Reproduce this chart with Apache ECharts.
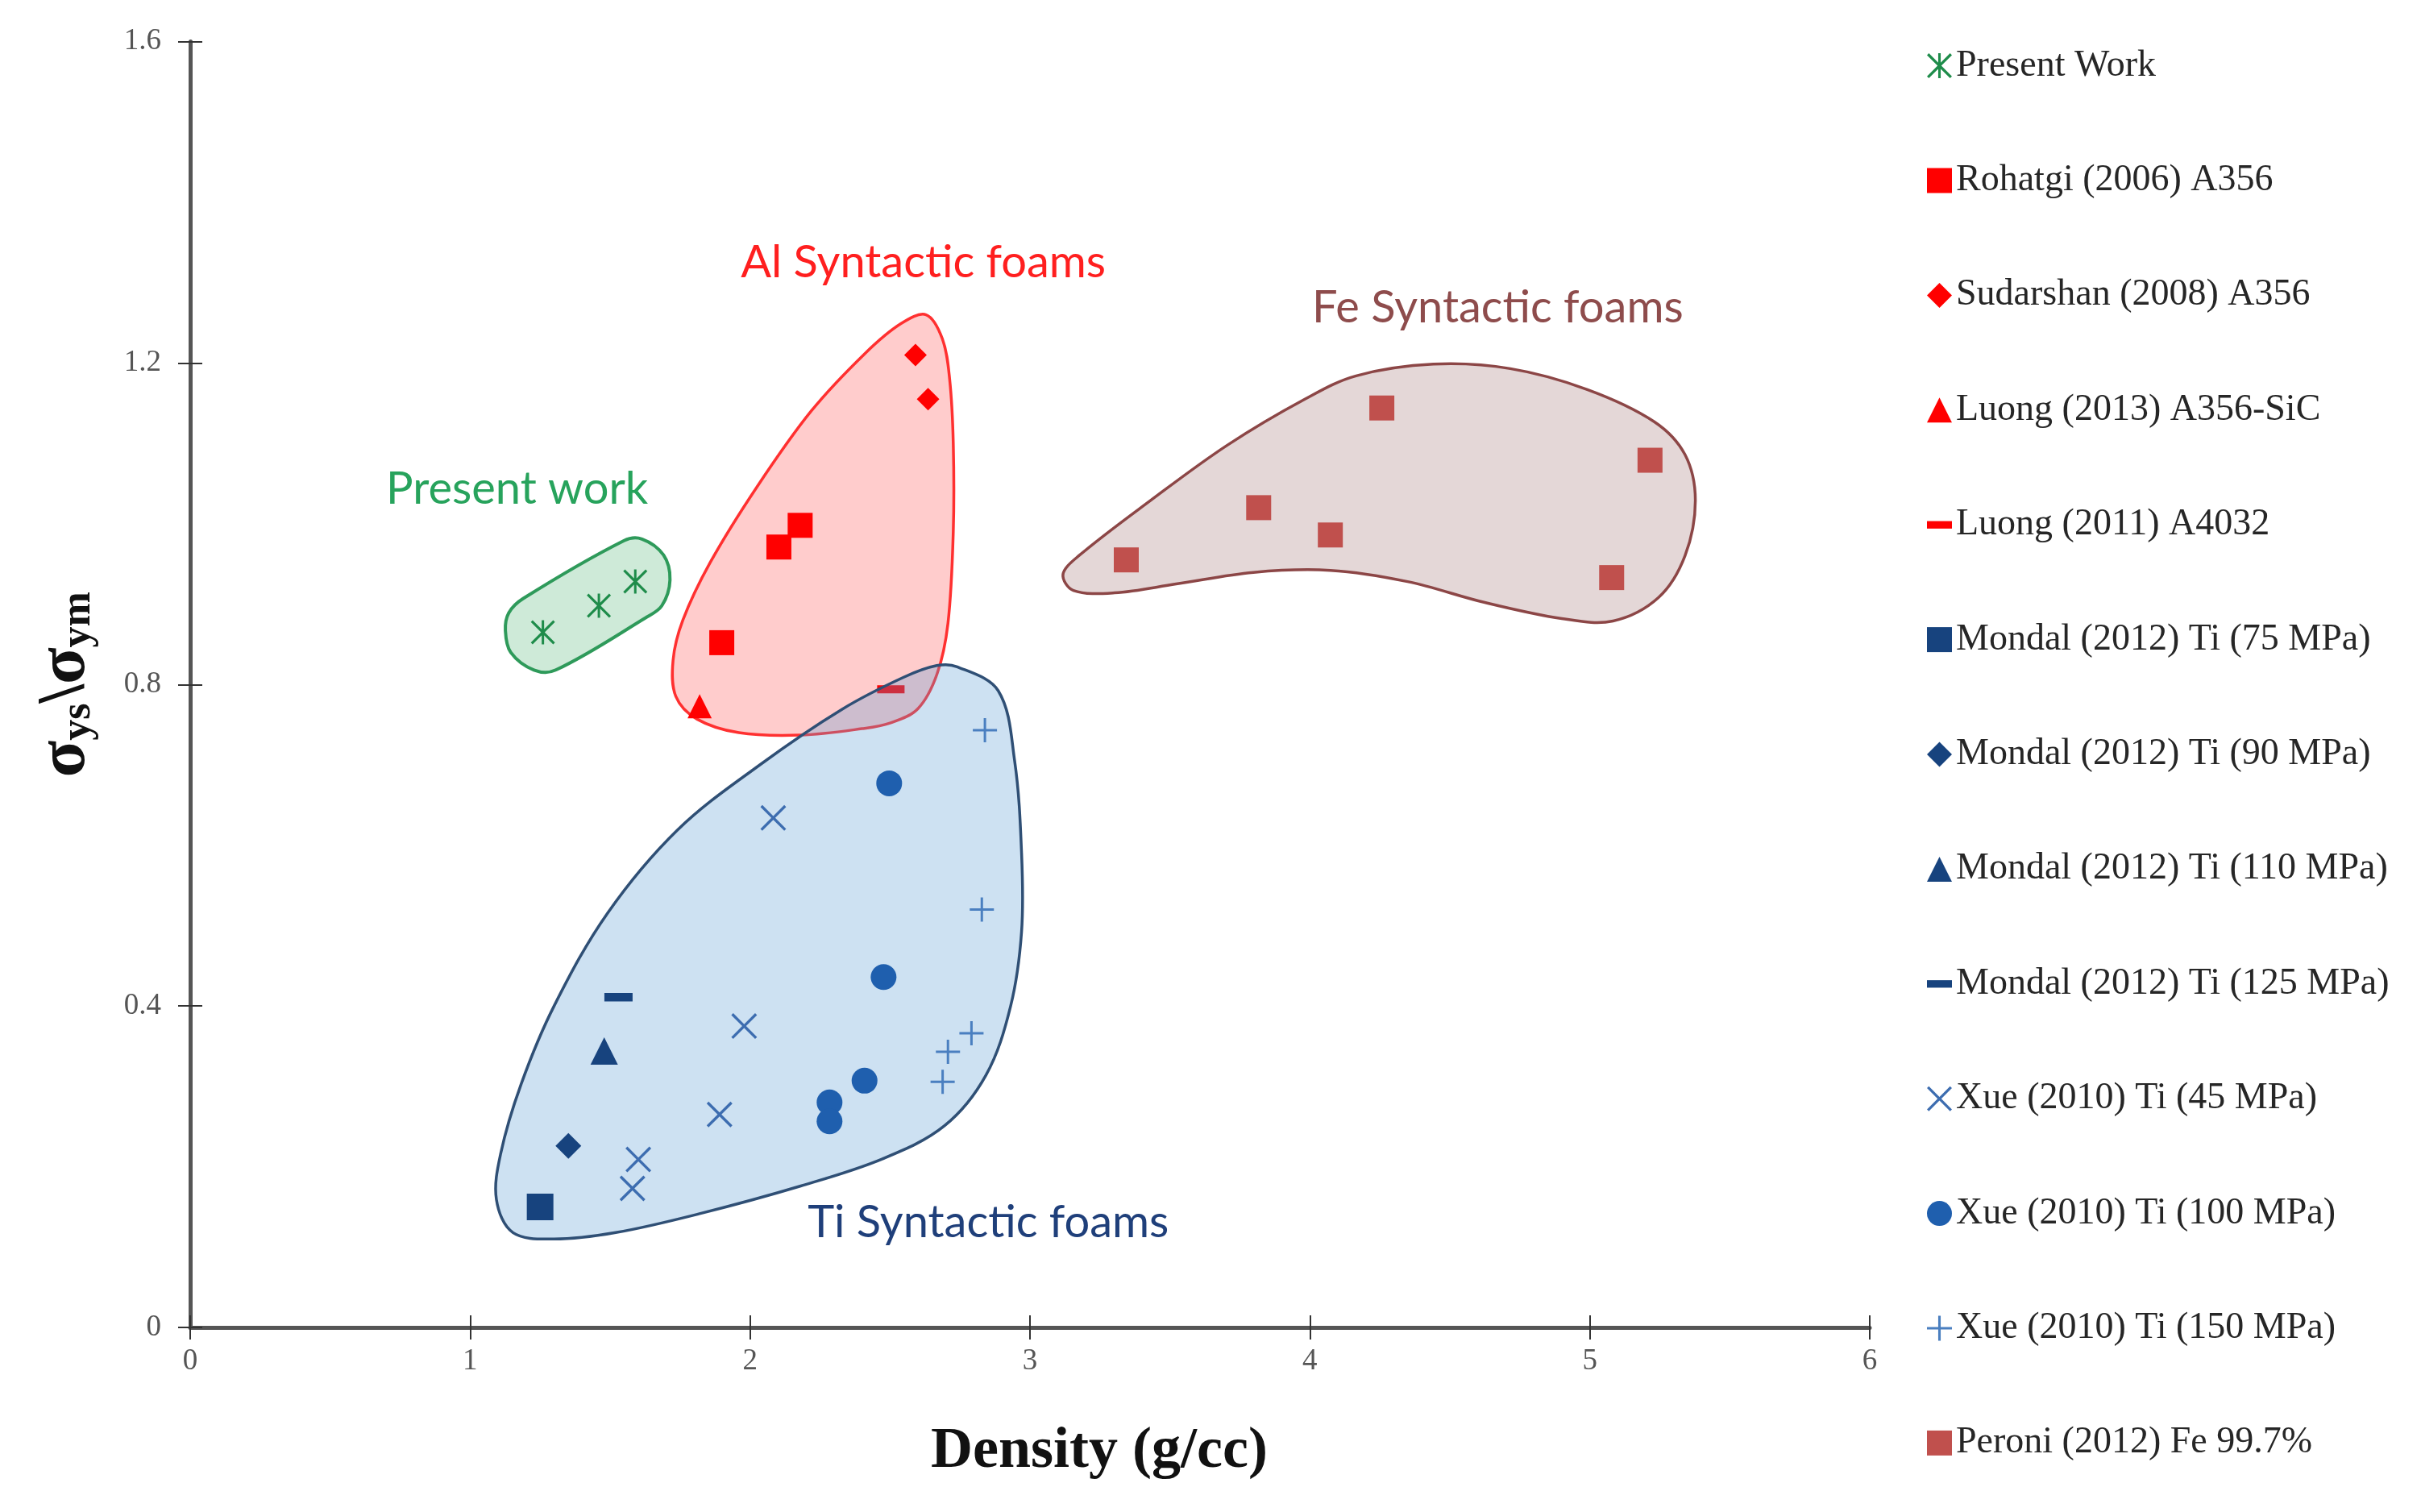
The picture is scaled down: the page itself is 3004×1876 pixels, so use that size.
<!DOCTYPE html>
<html><head><meta charset="utf-8">
<script src="https://cdn.jsdelivr.net/npm/echarts@6/dist/echarts.min.js"></script>
<style>html,body{margin:0;padding:0;background:#fff}#c{width:3004px;height:1876px}</style>
</head><body><div id="c"></div>
<script>
// ---- Data (density g/cc, sigma_ys/sigma_ym) ----
const xTicks = [0, 1, 2, 3, 4, 5, 6];
const yTicks = [0, 0.4, 0.8, 1.2, 1.6];
const seriesNames = ['Present Work','Rohatgi (2006) A356','Sudarshan (2008) A356','Luong (2013) A356-SiC','Luong (2011) A4032','Mondal (2012) Ti (75 MPa)','Mondal (2012) Ti (90 MPa)','Mondal (2012) Ti (110 MPa)','Mondal (2012) Ti (125 MPa)','Xue (2010) Ti (45 MPa)','Xue (2010) Ti (100 MPa)','Xue (2010) Ti (150 MPa)','Peroni (2012) Fe 99.7%'];
const presentWork = [[1.26,0.865],[1.46,0.898],[1.59,0.928]];
const rohatgi = [[1.899,0.852],[2.103,0.971],[2.179,0.998]];
const sudarshan = [[2.591,1.21],[2.636,1.155]];
const luong2013 = [[1.82,0.773]];
const luong2011 = [[2.503,0.794]];
const mondal75 = [[1.25,0.150]];
const mondal90 = [[1.351,0.226]];
const mondal110 = [[1.479,0.344]];
const mondal125 = [[1.53,0.411]];
const xue45 = [[2.083,0.634],[1.979,0.375],[1.891,0.265],[1.601,0.209],[1.58,0.173]];
const xue100 = [[2.497,0.677],[2.477,0.436],[2.409,0.307],[2.284,0.280],[2.284,0.2565]];
const xue150 = [[2.839,0.743],[2.828,0.520],[2.791,0.366],[2.707,0.343],[2.688,0.3055]];
const peroni = [[3.344,0.955],[3.817,1.020],[4.073,0.986],[4.257,1.144],[5.078,0.933],[5.215,1.079]];

// region outlines (data coordinates)
const greenRegion = [[1.138,0.889],[1.19,0.907],[1.55,0.979],[1.614,0.981],[1.691,0.961],[1.714,0.93],[1.685,0.898],[1.627,0.883],[1.306,0.818],[1.228,0.818],[1.145,0.84],[1.126,0.867]];
const redRegion = [[2.629,1.26],[2.687,1.23],[2.713,1.18],[2.726,1.10],[2.726,0.99],[2.707,0.876],[2.668,0.813],[2.60,0.77],[2.50,0.752],[2.40,0.745],[2.18,0.737],[1.96,0.74],[1.81,0.757],[1.735,0.785],[1.725,0.83],[1.76,0.88],[1.858,0.952],[2.025,1.046],[2.218,1.14],[2.411,1.212],[2.539,1.249]];
const blueRegion = [[2.74,0.822],[2.887,0.792],[2.945,0.7055],[2.97,0.59],[2.97,0.4925],[2.931,0.40],[2.843,0.314],[2.695,0.251],[2.475,0.21],[2.181,0.176],[1.814,0.141],[1.52,0.118],[1.30,0.11],[1.153,0.118],[1.094,0.159],[1.109,0.216],[1.182,0.3025],[1.30,0.40],[1.491,0.5155],[1.741,0.619],[2.035,0.70],[2.328,0.769],[2.549,0.809],[2.667,0.8235]];
const feRegion = [[3.118,0.937],[3.174,0.96],[3.431,1.029],[3.706,1.098],[3.982,1.155],[4.165,1.184],[4.441,1.1985],[4.716,1.193],[4.991,1.167],[5.23,1.127],[5.34,1.086],[5.377,1.029],[5.34,0.96],[5.245,0.908],[5.083,0.879],[4.90,0.882],[4.625,0.902],[4.349,0.928],[4.073,0.942],[3.798,0.9395],[3.522,0.925],[3.302,0.914],[3.155,0.917]];

const annotationText = ['Present work','Al Syntactic foams','Fe Syntactic foams','Ti Syntactic foams'];
const annotationX = [1.168, 2.619, 4.671, 2.851];
const annotationY = [1.043, 1.325, 1.269, 0.130];
const annotationColor = ['#27a35c','#ff1f1f','#8e4c4c','#1f3f7a'];

// ---- symbols ----
const STAR = 'path://M1.5,0L10,8.5L18.5,0L20,1.5L11.5,10L20,18.5L18.5,20L10,11.5L1.5,20L0,18.5L8.5,10L0,1.5ZM9,0H11V20H9Z';
const XMARK = 'path://M1.5,0L10,8.5L18.5,0L20,1.5L11.5,10L20,18.5L18.5,20L10,11.5L1.5,20L0,18.5L8.5,10L0,1.5Z';
const PLUS = 'path://M0,9H20V11H0ZM9,0H11V20H9Z';
const DASH = 'path://M0,0H10V3H0Z';

const chart = echarts.init(document.getElementById('c'), null, {renderer:'canvas'});

function region(outline, fill, stroke, lw, z) {
  return {
    type:'custom', coordinateSystem:'cartesian2d', silent:true, z:z,
    data:[outline[0]],
    renderItem: function(params, api) {
      const pts = outline.map(function(p){ return api.coord(p); });
      return {type:'polygon', shape:{points:pts, smooth:0.35},
        style:{fill:fill, stroke:stroke, lineWidth:lw}};
    }
  };
}

function scatter(name, data, symbol, size, color, z) {
  return {type:'scatter', name:name, data:data, symbol:symbol, symbolSize:size,
    symbolKeepAspect:true, itemStyle:{color:color, opacity:1}, z:z, silent:true};
}

const legendIcons = [STAR,'rect','diamond','triangle',DASH,'rect','diamond','triangle',DASH,XMARK,'circle',PLUS,'rect'];

const option = {
  backgroundColor:'#ffffff',
  animation:false,
  grid:{left:236, right:684, top:51.5, bottom:229, containLabel:false},
  xAxis:[{
    type:'value', min:0, max:6, interval:1,
    axisLine:{show:true, lineStyle:{color:'#555', width:5}},
    axisTick:{show:true, length:15, lineStyle:{color:'#333', width:2}},
    axisLabel:{fontFamily:'Liberation Serif', fontSize:37, color:'#555', margin:24},
    splitLine:{show:false},
    name:'Density (g/cc)', nameLocation:'middle', nameGap:118,
    nameTextStyle:{fontFamily:'Liberation Serif', fontWeight:'bold', fontSize:72, color:'#111', padding:[0,0,0,172]}
  },{
    type:'value', min:0, max:6, interval:1, position:'bottom',
    axisLine:{show:false}, axisLabel:{show:false}, splitLine:{show:false},
    axisTick:{show:true, inside:true, length:15, lineStyle:{color:'#333', width:2}}
  }],
  yAxis:[{
    type:'value', min:0, max:1.6, interval:0.4,
    axisLine:{show:true, lineStyle:{color:'#555', width:5}},
    axisTick:{show:true, length:15, lineStyle:{color:'#333', width:2}},
    axisLabel:{fontFamily:'Liberation Serif', fontSize:37, color:'#555', margin:36},
    splitLine:{show:false},
    name:'σ{s|ys}\\σ{s|ym}', nameLocation:'middle', nameGap:112, nameRotate:90,
    nameTextStyle:{fontFamily:'Liberation Serif', fontWeight:'bold', fontSize:84, color:'#111',
      rich:{s:{fontFamily:'Liberation Serif', fontWeight:'bold', fontSize:52, color:'#111', verticalAlign:'bottom', lineHeight:40}}}
  },{
    type:'value', min:0, max:1.6, interval:0.4, position:'left',
    axisLine:{show:false}, axisLabel:{show:false}, splitLine:{show:false},
    axisTick:{show:true, inside:true, length:15, lineStyle:{color:'#333', width:2}}
  }],
  legend:{
    orient:'vertical', left:2386, top:53.6, itemGap:96.4,
    itemWidth:31, itemHeight:31,
    textStyle:{fontFamily:'Liberation Serif', fontSize:46, color:'#262626', lineHeight:46},
    data: seriesNames.map(function(n,i){ return {name:n, icon:legendIcons[i]}; }),
    selectedMode:false
  },
  series:[
    region(greenRegion, 'rgba(60,170,100,0.25)', '#2e9a5a', 4, 1),
    region(feRegion, '#e4d7d7', '#8c4646', 3.5, 1),
    region(redRegion, 'rgba(255,0,0,0.2)', '#ff3030', 3.5, 1),
    scatter(seriesNames[0], presentWork, STAR, 30, '#1e8c4a', 5),
    scatter(seriesNames[1], rohatgi, 'rect', 31, '#ff0000', 2),
    scatter(seriesNames[2], sudarshan, 'diamond', 28, '#ff0000', 2),
    scatter(seriesNames[3], luong2013, 'triangle', 30, '#ff0000', 2),
    scatter(seriesNames[4], luong2011, DASH, 34, '#ff0000', 2),
    region(blueRegion, 'rgba(91,155,213,0.3)', '#2f4f75', 3.5, 3),
    scatter(seriesNames[5], mondal75, 'rect', 33, '#17437e', 5),
    scatter(seriesNames[6], mondal90, 'diamond', 32, '#17437e', 5),
    scatter(seriesNames[7], mondal110, 'triangle', 34, '#17437e', 5),
    scatter(seriesNames[8], mondal125, DASH, 35, '#17437e', 5),
    scatter(seriesNames[9], xue45, XMARK, 32, '#3d6db0', 5),
    scatter(seriesNames[10], xue100, 'circle', 32, '#1f5fae', 5),
    scatter(seriesNames[11], xue150, PLUS, 30, '#4a7fc0', 5),
    scatter(seriesNames[12], peroni, 'rect', 31, '#c0504d', 5),
    {
      type:'custom', coordinateSystem:'cartesian2d', silent:true, z:6,
      data: annotationX.map(function(x,i){ return [x, annotationY[i]]; }),
      renderItem: function(params, api) {
        const i = params.dataIndex;
        const p = api.coord([annotationX[i], annotationY[i]]);
        return {type:'text', x:p[0], y:p[1],
          style:{text:annotationText[i], fill:annotationColor[i], font:'56px Lato',
            align:'center', verticalAlign:'middle'}};
      }
    }
  ]
};
chart.setOption(option);
</script>
</body></html>
